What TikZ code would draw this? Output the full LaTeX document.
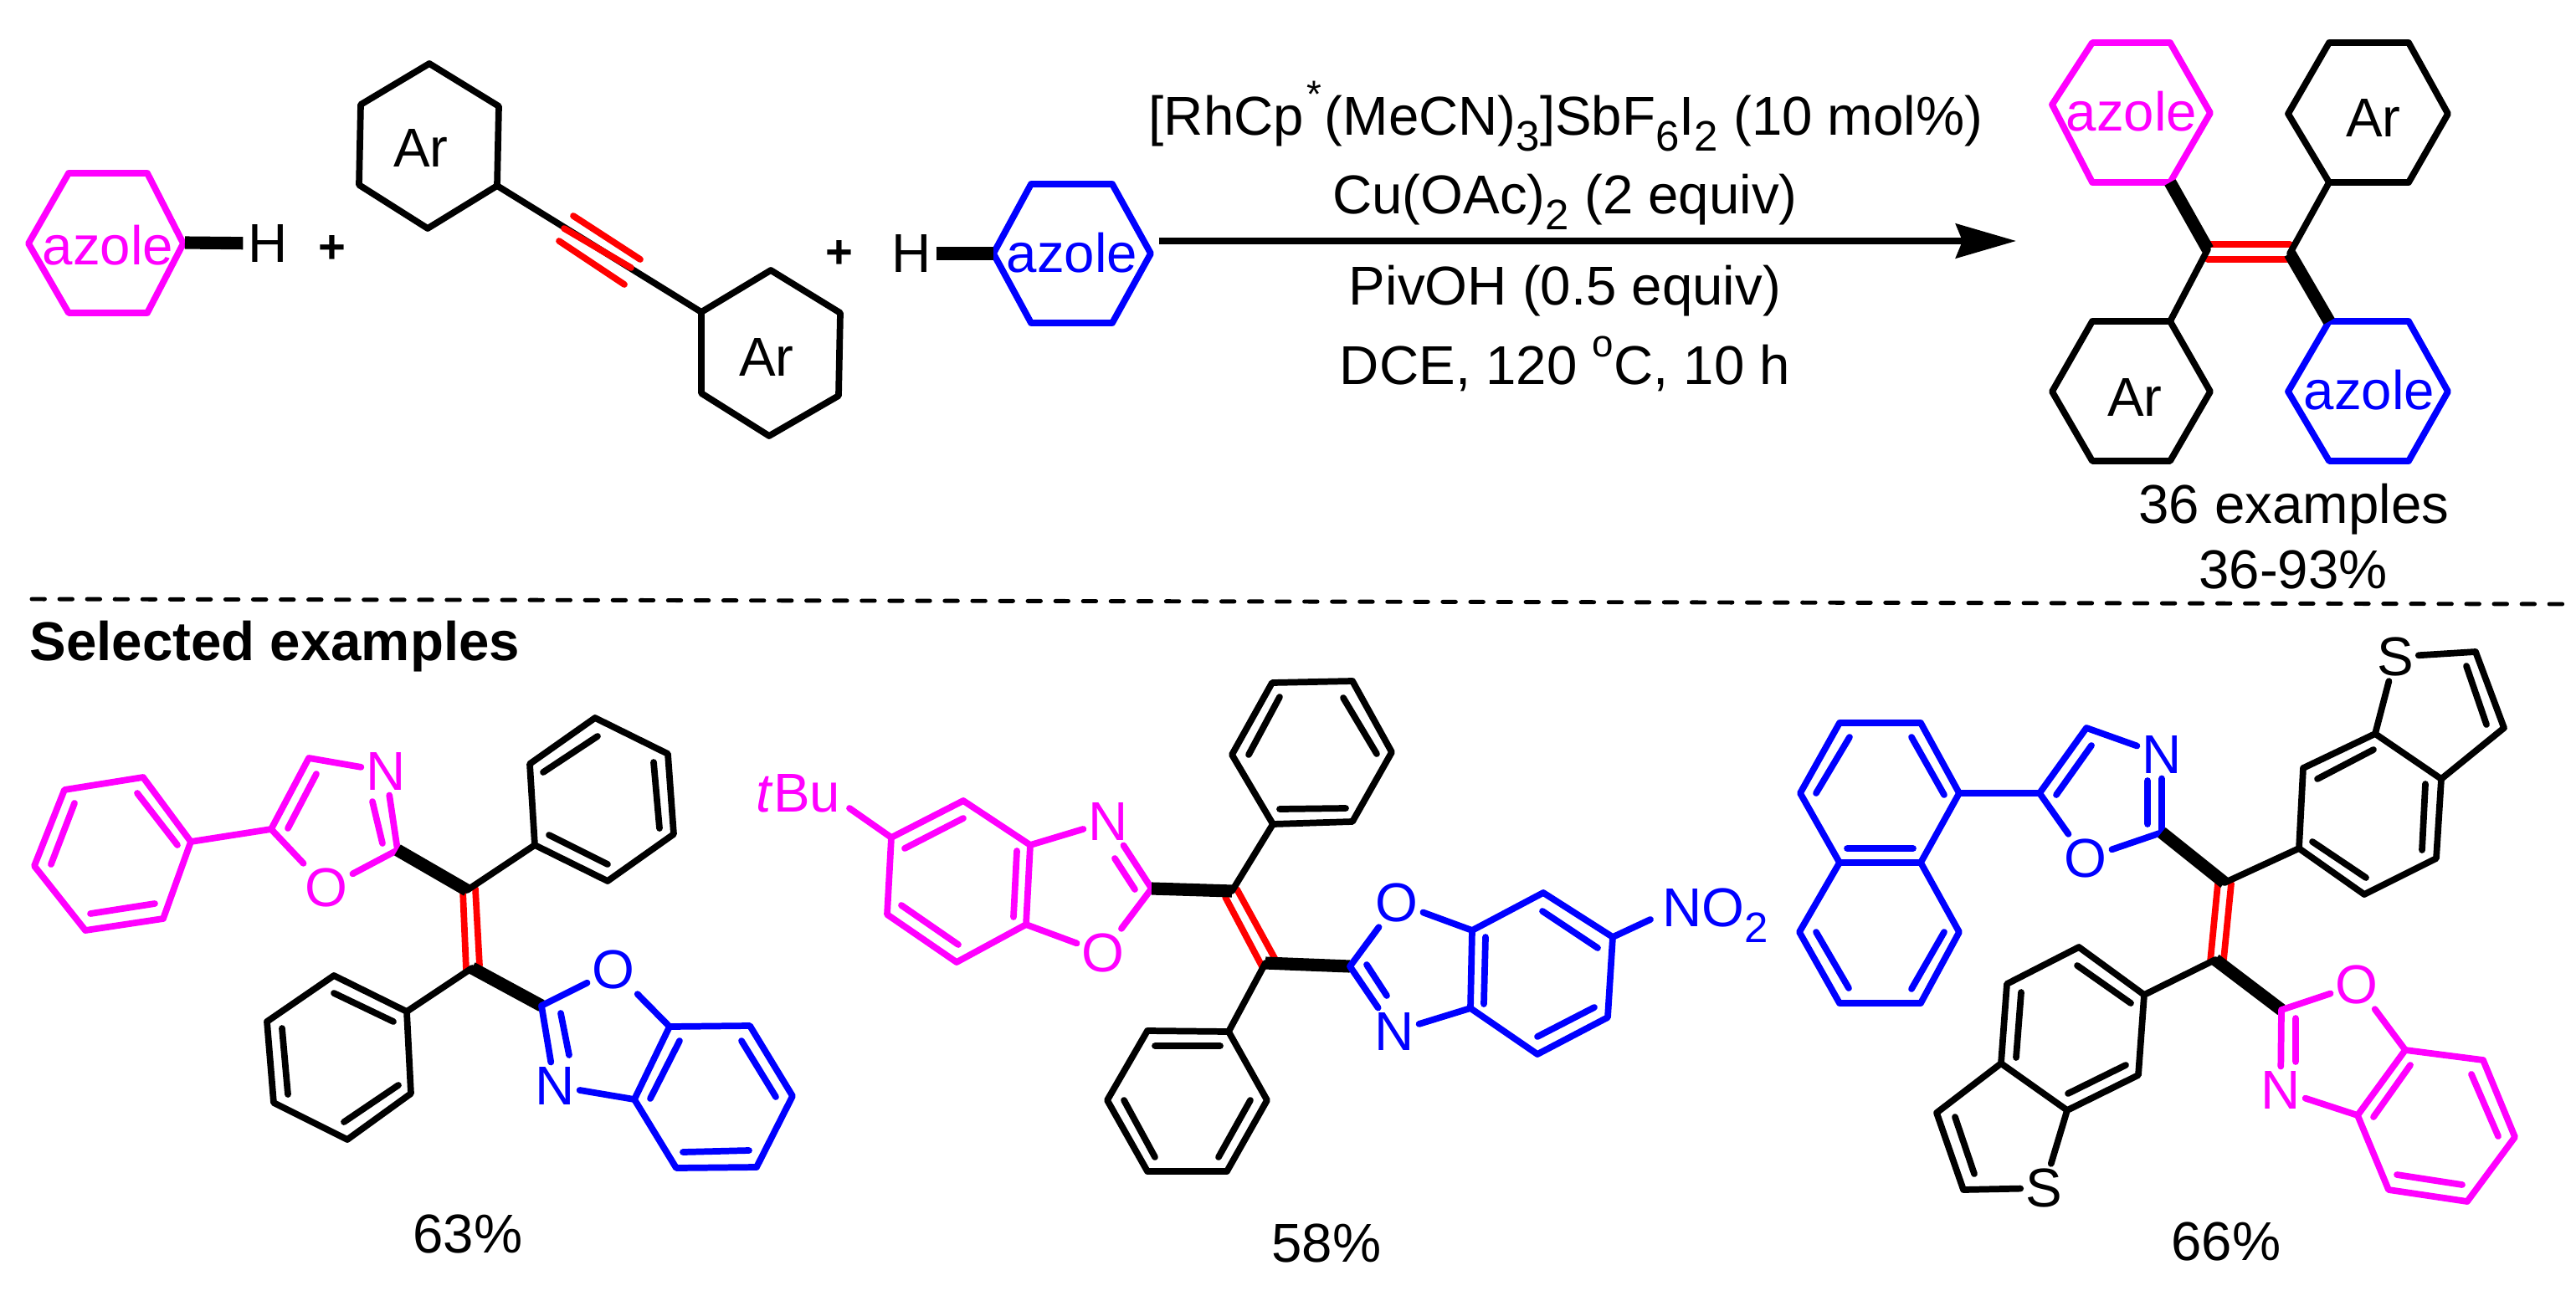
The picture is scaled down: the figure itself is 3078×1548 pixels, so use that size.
\documentclass[tikz,border=0pt]{standalone}
\usepackage{fontspec}
\setmainfont{Liberation Sans}
\usetikzlibrary{arrows.meta}
\definecolor{azolepink}{RGB}{255,0,255}
\definecolor{azoleblue}{RGB}{0,0,255}
\definecolor{alkenered}{RGB}{255,0,0}
\newcommand{\chemlow}[1]{\raisebox{-0.3em}{\fontsize{14.5}{14.5}\selectfont #1}}
\newcommand{\chemhigh}[1]{\raisebox{0.5em}{\fontsize{13}{13}\selectfont #1}}
\tikzset{
  every node/.style={font=\fontsize{18.6}{22}\selectfont},
  atom/.style={inner sep=1.5pt},
  textline/.style={inner sep=0pt, anchor=base},
  bond/.style={line width=2.2pt, line cap=round, line join=round},
  heavybond/.style={line width=4.3pt, line cap=butt},
}
\begin{document}
\begin{tikzpicture}[x=0.01cm, y=-0.01cm]
    \useasboundingbox (0,0) rectangle (3078,1548);
    %
    % top scheme
    \draw[bond, azolepink] (82,207)--(176,207)--(219,291)--(176,374)--(82,374)--(34,291)--cycle;
    \node[atom, azolepink] (azoleA) at (129,293) {azole};
    \coordinate (azoleAr) at (221,290);
    \node[atom] (hA) at (320,291) {H};
    \draw[heavybond] (azoleAr) -- (hA);
    \node[atom] (plusA) at (397,298) {\fontsize{16}{16}\selectfont\textbf{+}};
    %
    \draw[bond] (513,76)--(596,127)--(594,222)--(511,273)--(429,221)--(431,125)--cycle;
    \draw[bond] (921,323)--(1004,374)--(1002,473)--(919,521)--(838,470)--(838,373)--cycle;
    \node[atom] (arA) at (503,177) {Ar};
    \node[atom] (arB) at (916,427) {Ar};
    \coordinate (alkA) at (594,222);
    \coordinate (alkB) at (838,373);
    \draw[bond] (alkA) -- (alkB);
    \draw[bond, alkenered] (674,273)--(754,320) (685,258)--(765,310) (668,288)--(746,340);
    %
    \node[atom] (plusB) at (1003,304) {\fontsize{16}{16}\selectfont\textbf{+}};
    \node[atom] (hB) at (1089,303) {H};
    \draw[bond, azoleblue] (1232,220)--(1329,220)--(1375,303)--(1329,386)--(1232,386)--(1187,303)--cycle;
    \node[atom, azoleblue] (azoleB) at (1281,302) {azole};
    \coordinate (azoleBl) at (1187,303);
    \draw[heavybond] (hB) -- (azoleBl);
    %
    \coordinate (arrowA) at (1385,288);
    \coordinate (arrowB) at (2409,288);
    \draw[line width=2pt, -{Stealth[length=0.72cm, width=0.41cm, inset=0.08cm]}] (arrowA) -- (arrowB);
    \node[textline] (condA) at (1871,161) {[RhCp\kern1pt\chemhigh{*}\kern1pt(MeCN)\chemlow{3}]SbF\chemlow{6}I\chemlow{2} (10 mol\%)};
    \node[textline] (condB) at (1870,255) {Cu(OAc)\chemlow{2} (2 equiv)};
    \node[textline] (condC) at (1870,364) {PivOH (0.5 equiv)};
    \node[textline] (condD) at (1870,459) {DCE, 120 \chemhigh{o}C, 10 h};
    %
    % top product
    \draw[bond, azolepink] (2500,51)--(2593,51)--(2641,135)--(2593,218)--(2500,218)--(2452,125)--cycle;
    \draw[bond] (2783,51)--(2878,51)--(2925,136)--(2878,218)--(2783,218)--(2734,136)--cycle;
    \draw[bond] (2500,384)--(2593,384)--(2641,468)--(2593,551)--(2500,551)--(2452,468)--cycle;
    \draw[bond, azoleblue] (2783,384)--(2878,384)--(2925,468)--(2878,551)--(2783,551)--(2734,468)--cycle;
    \node[atom, azolepink] (azoleC) at (2547,133) {azole};
    \node[atom] (arC) at (2836,141) {Ar};
    \node[atom] (arD) at (2551,475) {Ar};
    \node[atom, azoleblue] (azoleD) at (2831,466) {azole};
    \coordinate (pA) at (2638,298);
    \coordinate (pB) at (2736,303);
    \coordinate (pC) at (2593,218);
    \coordinate (pD) at (2783,218);
    \coordinate (pE) at (2593,384);
    \coordinate (pF) at (2783,384);
    \draw[bond, alkenered] (2641,292)--(2736,292) (2638,310)--(2733,310);
    \draw[bond] (pA) -- (pE) (pB) -- (pD);
    \draw[heavybond] (pC) -- (pA);
    \draw[heavybond] (pB) -- (pF);
    \node[textline] (exA) at (2741,625) {36 examples};
    \node[textline] (exB) at (2740,703) {36-93\%};
    %
    % separator
    \coordinate (sepA) at (38,716);
    \coordinate (sepB) at (3062,722);
    \draw[line width=1.4pt, line cap=round, dash pattern=on 4.4pt off 5pt] (sepA) -- (sepB);
    \node[textline, anchor=base west] (title) at (35,789) {\textbf{Selected examples}};
    %
    % first example
    \draw[bond, azolepink] (171,929)--(228,1006)--(195,1098)--(102,1112)--(41,1035)--(77,944)--cycle
        (164,948)--(212,1010) (89,960)--(61,1033) (108,1092)--(185,1080);
    \node[atom, azolepink] (aN) at (461,922) {N};
    \node[atom, azolepink] (aO) at (390,1061) {O};
    \coordinate (aPh) at (228,1006);
    \coordinate (aFive) at (324,991);
    \coordinate (aFour) at (369,906);
    \coordinate (aTwo) at (475,1016);
    \draw[bond, azolepink] (aPh) -- (aFive) (aFive) -- (aFour) (aFour) -- (aN) (aN) -- (aTwo) (aTwo) -- (aO) (aO) -- (aFive)
        (344,990)--(378,925) (445,958)--(457,1008);
    \draw[bond] (639,1010)--(633,913)--(711,858)--(798,901)--(805,997)--(726,1053)--cycle
        (649,923)--(714,880) (781,911)--(788,990) (726,1033)--(656,998);
    \draw[bond] (486,1209)--(399,1166)--(319,1221)--(327,1318)--(415,1362)--(491,1307)--cycle
        (399,1187)--(470,1221) (337,1229)--(344,1308) (411,1341)--(476,1297);
    \coordinate (aUp) at (558,1064);
    \coordinate (aLow) at (564,1157);
    \coordinate (aRight) at (639,1010);
    \coordinate (aLeft) at (486,1209);
    \coordinate (aTwoB) at (647,1202);
    \draw[bond, alkenered] (553,1064)--(557,1159) (568,1062)--(573,1154);
    \draw[bond] (aUp) -- (aRight) (aLow) -- (aLeft);
    \draw[heavybond] (aTwo) -- (aUp);
    \draw[heavybond] (aLow) -- (aTwoB);
    \node[atom, azoleblue] (aOb) at (733,1159) {O};
    \node[atom, azoleblue] (aNb) at (663,1298) {N};
    \coordinate (aSeven) at (800,1227);
    \coordinate (aThree) at (758,1314);
    \draw[bond, azoleblue] (aTwoB) -- (aOb) (aOb) -- (aSeven) (aThree) -- (aNb) (aNb) -- (aTwoB)
        (812,1244)--(777,1313) (680,1261)--(670,1211);
    \draw[bond, azoleblue] (800,1227)--(896,1226)--(947,1310)--(904,1395)--(808,1396)--(758,1314)--cycle
        (886,1244)--(927,1311) (895,1375)--(816,1377);
    \node[textline] (yieldA) at (559,1497) {63\%};
    %
    % second example
    \node[textline, azolepink] (bBu) at (954,970) {\textit{t}Bu};
    \draw[bond, azolepink] (1065,1001)--(1151,957)--(1231,1010)--(1226,1105)--(1143,1150)--(1060,1093)--cycle
        (1081,1014)--(1151,978) (1215,1017)--(1211,1096) (1145,1129)--(1077,1082);
    \node[atom, azolepink] (bN) at (1324,982) {N};
    \node[atom, azolepink] (bO) at (1318,1139) {O};
    \coordinate (bBuEnd) at (1015,966);
    \coordinate (bSub) at (1065,1001);
    \coordinate (bThree) at (1231,1010);
    \coordinate (bSeven) at (1226,1105);
    \coordinate (bTwo) at (1376,1062);
    \draw[bond, azolepink] (bBuEnd) -- (bSub) (bThree) -- (bN) (bN) -- (bTwo) (bTwo) -- (bO) (bO) -- (bSeven)
        (1332,1026)--(1356,1063);
    \draw[bond] (1521,985)--(1472,902)--(1520,816)--(1616,814)--(1663,899)--(1616,982)--cycle
        (1529,833)--(1492,902) (1605,834)--(1645,901) (1608,966)--(1529,967);
    \draw[bond] (1468,1233)--(1371,1232)--(1323,1315)--(1371,1400)--(1466,1400)--(1514,1315)--cycle
        (1380,1250)--(1458,1250) (1343,1315)--(1380,1383) (1494,1315)--(1456,1383);
    \coordinate (bUp) at (1472,1065);
    \coordinate (bLow) at (1512,1151);
    \coordinate (bRight) at (1521,985);
    \coordinate (bLeft) at (1468,1233);
    \coordinate (bTwoB) at (1613,1155);
    \draw[bond, alkenered] (1464,1072)--(1509,1157) (1478,1063)--(1524,1147);
    \draw[bond] (bUp) -- (bRight) (bLow) -- (bLeft);
    \draw[heavybond] (bTwo) -- (bUp);
    \draw[heavybond] (bLow) -- (bTwoB);
    \node[atom, azoleblue] (bOb) at (1669,1079) {O};
    \node[atom, azoleblue] (bNb) at (1666,1233) {N};
    \coordinate (bSevenB) at (1759,1112);
    \coordinate (bThreeB) at (1757,1205);
    \coordinate (bNitro) at (1927,1120);
    \node[textline, azoleblue, anchor=base west] (bNO) at (1986,1107) {NO\chemlow{2}};
    \coordinate (bNitroEnd) at (1972,1099);
    \draw[bond, azoleblue] (bTwoB) -- (bOb) (bOb) -- (bSevenB) (bThreeB) -- (bNb) (bNb) -- (bTwoB) (bNitro) -- (bNitroEnd)
        (1657,1190)--(1633,1153);
    \draw[bond, azoleblue] (1759,1112)--(1844,1067)--(1927,1120)--(1921,1216)--(1837,1260)--(1757,1205)--cycle
        (1775,1120)--(1773,1200) (1843,1089)--(1909,1133) (1905,1204)--(1837,1239);
    \node[textline] (yieldB) at (1585,1508) {58\%};
    %
    % third example
    \draw[bond, azoleblue] (2198,864)--(2295,864)--(2341,948)--(2295,1031)--(2198,1031)--(2151,948)--cycle
        (2295,1031)--(2341,1114)--(2295,1199)--(2198,1199)--(2150,1114)--(2198,1031)
        (2210,881)--(2170,948) (2284,881)--(2323,950) (2207,1014)--(2286,1014) (2170,1114)--(2209,1181) (2323,1114)--(2284,1182);
    \node[atom, azoleblue] (cN) at (2583,902) {N};
    \node[atom, azoleblue] (cO) at (2492,1026) {O};
    \coordinate (cNaph) at (2341,948);
    \coordinate (cFive) at (2437,948);
    \coordinate (cFour) at (2493,870);
    \coordinate (cTwo) at (2583,995);
    \draw[bond, azoleblue] (cNaph) -- (cFive) (cFive) -- (cFour) (cFour) -- (cN) (cN) -- (cTwo) (cTwo) -- (cO) (cO) -- (cFive)
        (2457,950)--(2499,891) (2566,933)--(2566,985);
    \draw[bond] (2747,1014)--(2752,918)--(2838,877)--(2917,931)--(2911,1026)--(2825,1069)--cycle
        (2769,931)--(2836,896) (2898,937)--(2894,1016) (2827,1049)--(2763,1006);
    \node[atom] (cS) at (2862,785) {S};
    \coordinate (cSa) at (2838,877);
    \coordinate (cSb) at (2958,779);
    \coordinate (cSc) at (2992,870);
    \coordinate (cSd) at (2917,931);
    \draw[bond] (cSa) -- (cS) (cS) -- (cSb) -- (cSc) -- (cSd) (2947,796)--(2971,866);
    \draw[bond] (2562,1189)--(2484,1132)--(2398,1176)--(2391,1271)--(2470,1327)--(2555,1285)--cycle
        (2546,1199)--(2482,1154) (2415,1186)--(2409,1264) (2471,1307)--(2540,1273);
    \node[atom] (cSl) at (2442,1420) {S};
    \coordinate (cSe) at (2470,1327);
    \coordinate (cSf) at (2346,1422);
    \coordinate (cSg) at (2314,1330);
    \coordinate (cSh) at (2391,1271);
    \draw[bond] (cSe) -- (cSl) (cSl) -- (cSf) -- (cSg) -- (cSh) (2336,1335)--(2359,1403);
    \coordinate (cUp) at (2658,1055);
    \coordinate (cLow) at (2647,1147);
    \coordinate (cRight) at (2747,1014);
    \coordinate (cLeft) at (2562,1189);
    \coordinate (cTwoB) at (2726,1207);
    \draw[bond, alkenered] (2650,1056)--(2641,1149) (2666,1056)--(2657,1147);
    \draw[bond] (cUp) -- (cRight) (cLow) -- (cLeft);
    \draw[heavybond] (cTwo) -- (cUp);
    \draw[heavybond] (cLow) -- (cTwoB);
    \node[atom, azolepink] (cOb) at (2816,1177) {O};
    \node[atom, azolepink] (cNb) at (2725,1303) {N};
    \coordinate (cSeven) at (2874,1255);
    \coordinate (cThree) at (2817,1333);
    \draw[bond, azolepink] (cTwoB) -- (cOb) (cOb) -- (cSeven) (cThree) -- (cNb) (cNb) -- (cTwoB)
        (2880,1273)--(2836,1335) (2743,1217)--(2743,1269);
    \draw[bond, azolepink] (2874,1255)--(2967,1267)--(3005,1359)--(2948,1436)--(2854,1422)--(2817,1333)--cycle
        (2953,1284)--(2985,1358) (2942,1416)--(2864,1404);
    \node[textline] (yieldC) at (2660,1506) {66\%};
\end{tikzpicture}
\end{document}
